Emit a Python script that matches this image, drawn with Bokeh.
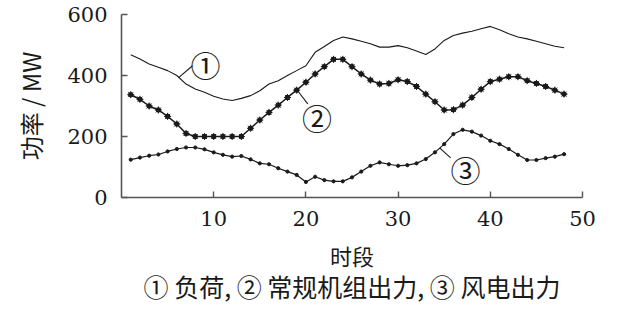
from bokeh.plotting import figure
from bokeh.models import Range1d, FixedTicker, Label, Title
from bokeh.embed import file_html
from bokeh.resources import INLINE

# ---- data ----
periods = list(range(1, 49))
load = [468, 454, 438, 427, 416, 400, 372, 356, 345, 332, 323, 318, 325, 334, 350, 372,
        383, 400, 416, 432, 476, 495, 515, 526, 520, 512, 504, 493, 493, 498, 491, 480,
        469, 487, 515, 531, 539, 545, 553, 561, 550, 537, 526, 520, 512, 504, 496, 491]
conventional = [337, 322, 300, 287, 266, 241, 210, 200, 200, 200, 200, 200, 200, 227, 254, 279,
                303, 328, 352, 378, 405, 429, 453, 453, 429, 405, 385, 372, 374, 386, 380, 364,
                339, 314, 287, 288, 303, 328, 355, 380, 388, 396, 396, 383, 374, 364, 352, 339]
wind = [124, 131, 137, 141, 151, 159, 164, 164, 158, 148, 140, 134, 136, 125, 112, 109,
        96, 85, 74, 51, 68, 57, 53, 53, 66, 85, 104, 115, 109, 104, 106, 112,
        126, 148, 175, 208, 222, 216, 203, 186, 175, 159, 140, 123, 123, 129, 134, 142]
x_ticks = [10, 20, 30, 40, 50]
y_ticks = [0, 200, 400, 600]
y_label = "功率 / MW"
x_label = "时段"
caption = "① 负荷, ② 常规机组出力, ③ 风电出力"
tags = ["①", "②", "③"]
tag_x = [9.1, 21.2, 37.3]
tag_y = [439, 263, 93]
lead_x0 = [6.2, 19.0, 34.5]
lead_y0 = [393, 354, 163]
lead_x1 = [7.7, 20.2, 35.7]
lead_y1 = [432, 307, 130]

INK = "#1a1a1a"
AX = "#555555"
CJK = "Noto Sans CJK SC"
SERIF = "DejaVu Serif"

p = figure(width=632, height=315, output_backend="svg", toolbar_location=None,
           x_range=Range1d(0, 50), y_range=Range1d(0, 600),
           min_border_left=121, min_border_right=50, min_border_top=14, min_border_bottom=118)
p.outline_line_color = None
p.xgrid.visible = False
p.ygrid.visible = False
p.background_fill_color = "white"
p.border_fill_color = "white"

for ax in (p.xaxis[0], p.yaxis[0]):
    ax.axis_line_color = AX
    ax.axis_line_width = 1.6
    ax.major_tick_line_color = AX
    ax.major_tick_line_width = 1.4
    ax.major_tick_in = 6
    ax.major_tick_out = 0
    ax.minor_tick_line_color = None
    ax.major_label_text_font = SERIF
    ax.major_label_text_font_size = "21px"
    ax.major_label_text_color = INK
    ax.axis_label_text_font = CJK
    ax.axis_label_text_font_size = "22px"
    ax.axis_label_text_font_style = "normal"
    ax.axis_label_text_color = INK

p.yaxis.axis_label_text_font_size = "24px"
p.xaxis.ticker = FixedTicker(ticks=x_ticks)
p.yaxis.ticker = FixedTicker(ticks=y_ticks)
p.xaxis.major_label_standoff = 13
p.yaxis.major_label_standoff = 14
p.xaxis.axis_label = x_label
p.yaxis.axis_label = y_label
p.xaxis.axis_label_standoff = 10
p.yaxis.axis_label_standoff = 16

p.line(periods, load, line_color=INK, line_width=1.1)
p.line(periods, conventional, line_color=INK, line_width=1.5)
p.scatter(periods, conventional, marker="circle", size=4.5, fill_color=INK, line_color=INK)
p.scatter(periods, conventional, marker="asterisk", size=7, line_color=INK, line_width=1)
p.line(periods, wind, line_color=INK, line_width=1.2)
p.scatter(periods, wind, marker="circle", size=3.2, fill_color=INK, line_color=INK)

p.segment(lead_x0, lead_y0, lead_x1, lead_y1, line_color=INK, line_width=1.1)
for t, tx, ty in zip(tags, tag_x, tag_y):
    p.add_layout(Label(x=tx, y=ty, text=t, text_font=CJK, text_font_size="30px",
                       text_color=INK, text_align="center", text_baseline="middle"))

p.add_layout(Title(text=caption, text_font=CJK, text_font_size="25px", text_color=INK,
                   text_font_style="normal", align="center", offset=-12, standoff=-15), "below")

open("out.html", "w").write(file_html(p, INLINE))
